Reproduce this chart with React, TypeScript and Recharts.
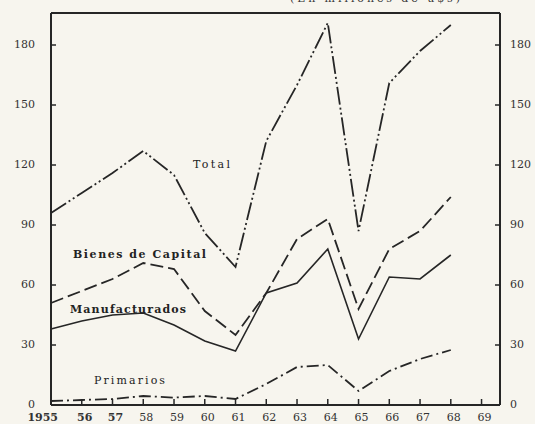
import React from "react";
import { LineChart, Line, XAxis, YAxis, ReferenceLine } from "recharts";

// Exportaciones por tipo de bien (en millones de u$s)
const years = [1955, 1956, 1957, 1958, 1959, 1960, 1961, 1962, 1963, 1964, 1965, 1966, 1967, 1968];
const total = [96, 106, 116, 127, 115, 86, 69, 132, 160, 191, 87, 161, 177, 190];
const bienesCapital = [51, 57, 63, 71, 68, 47, 35, 56, 83, 93, 48, 78, 87, 104];
const manufacturados = [38, 42, 45, 46, 40, 32, 27, 56, 61, 78, 33, 64, 63, 75];
const primarios = [2, 2.5, 3, 4.5, 3.7, 4.5, 3, 10.5, 19, 20, 7, 17, 23, 27.5];

const xTicks = [1955, 1956, 1957, 1958, 1959, 1960, 1961, 1962, 1963, 1964, 1965, 1966, 1967, 1968, 1969];
const yTicks = [0, 30, 60, 90, 120, 150, 180];
const Y_MAX = 196;

const data = years.map((year, i) => ({
  year,
  total: total[i],
  bienes: bienesCapital[i],
  manuf: manufacturados[i],
  prim: primarios[i],
}));

const INK = "#262626";
const FONT = "'DejaVu Serif', 'Liberation Serif', serif";

function LeftTick({ x, y, payload }: any) {
  return (
    <g>
      <line x1={x} y1={y} x2={x + 5} y2={y} stroke={INK} strokeWidth={1.5} />
      <text x={x - 16} y={y} dy="0.3em" textAnchor="end" fontSize={11} fontFamily={FONT} fill="#333">
        {payload.value}
      </text>
    </g>
  );
}

function RightTick({ x, y, payload }: any) {
  return (
    <g>
      <line x1={x - 5} y1={y} x2={x} y2={y} stroke={INK} strokeWidth={1.5} />
      <text x={x + 10} y={y} dy="0.3em" textAnchor="start" fontSize={11} fontFamily={FONT} fill="#333">
        {payload.value}
      </text>
    </g>
  );
}

function BottomTick({ x, y, payload }: any) {
  const v = payload.value as number;
  const first = v === 1955;
  return (
    <g>
      {!first && <line x1={x} y1={y} x2={x} y2={y - 6} stroke={INK} strokeWidth={1.5} />}
      <text
        x={first ? x + 7 : x + 3}
        y={y + 16}
        textAnchor={first ? "end" : "middle"}
        fontSize={11}
        fontFamily={FONT}
        fontWeight={v <= 1957 ? 700 : 400}
        fill="#333"
      >
        {first ? "1955" : String(v).slice(2)}
      </text>
    </g>
  );
}

export default function App() {
  return (
    <div style={{ position: "absolute", left: 0, top: 0, width: 535, height: 424, background: "#f7f5ee" }}>
      <LineChart width={535} height={424} data={data} margin={{ top: 13, right: 0, left: 0, bottom: 0 }}>
        <XAxis
          dataKey="year"
          type="number"
          domain={[1955, 1969.6]}
          ticks={xTicks}
          tick={<BottomTick />}
          tickLine={false}
          tickSize={0}
          tickMargin={0}
          axisLine={{ stroke: INK, strokeWidth: 2 }}
          height={19}
          interval={0}
        />
        <YAxis
          yAxisId="left"
          orientation="left"
          domain={[0, Y_MAX]}
          ticks={yTicks}
          tick={<LeftTick />}
          tickLine={false}
          tickSize={0}
          tickMargin={0}
          axisLine={{ stroke: INK, strokeWidth: 2 }}
          width={51}
          interval={0}
        />
        <YAxis
          yAxisId="right"
          orientation="right"
          domain={[0, Y_MAX]}
          ticks={yTicks}
          tick={<RightTick />}
          tickLine={false}
          tickSize={0}
          tickMargin={0}
          axisLine={{ stroke: INK, strokeWidth: 2 }}
          width={35}
          interval={0}
        />
        <ReferenceLine yAxisId="left" y={Y_MAX} stroke={INK} strokeWidth={2} />
        <Line
          yAxisId="right"
          dataKey="total"
          type="linear"
          stroke={INK}
          strokeWidth={1.8}
          strokeDasharray="18 3 2 3 2 3"
          dot={false}
          isAnimationActive={false}
        />
        <Line
          yAxisId="left"
          dataKey="bienes"
          type="linear"
          stroke={INK}
          strokeWidth={1.8}
          strokeDasharray="13 5"
          dot={false}
          isAnimationActive={false}
        />
        <Line
          yAxisId="left"
          dataKey="manuf"
          type="linear"
          stroke={INK}
          strokeWidth={1.6}
          dot={false}
          isAnimationActive={false}
        />
        <Line
          yAxisId="left"
          dataKey="prim"
          type="linear"
          stroke={INK}
          strokeWidth={1.8}
          strokeDasharray="12 4 2 4"
          dot={false}
          isAnimationActive={false}
        />
      </LineChart>
      <svg
        width={535}
        height={424}
        style={{ position: "absolute", left: 0, top: 0, pointerEvents: "none" }}
      >
        <text x={290} y={2} fontSize={11} fontFamily={FONT} fill="#333" textLength={170} lengthAdjust="spacing">
          (En millones de u$s)
        </text>
        <text x={193} y={168} fontSize={11} fontFamily={FONT} fill="#222" textLength={37} lengthAdjust="spacing">
          Total
        </text>
        <text x={73} y={258} fontSize={11} fontFamily={FONT} fontWeight={700} fill="#222" textLength={133} lengthAdjust="spacing">
          Bienes de Capital
        </text>
        <text x={70} y={313} fontSize={11} fontFamily={FONT} fontWeight={700} fill="#222" textLength={116} lengthAdjust="spacing">
          Manufacturados
        </text>
        <text x={94} y={384} fontSize={11} fontFamily={FONT} fill="#222" textLength={71} lengthAdjust="spacing">
          Primarios
        </text>
      </svg>
    </div>
  );
}
